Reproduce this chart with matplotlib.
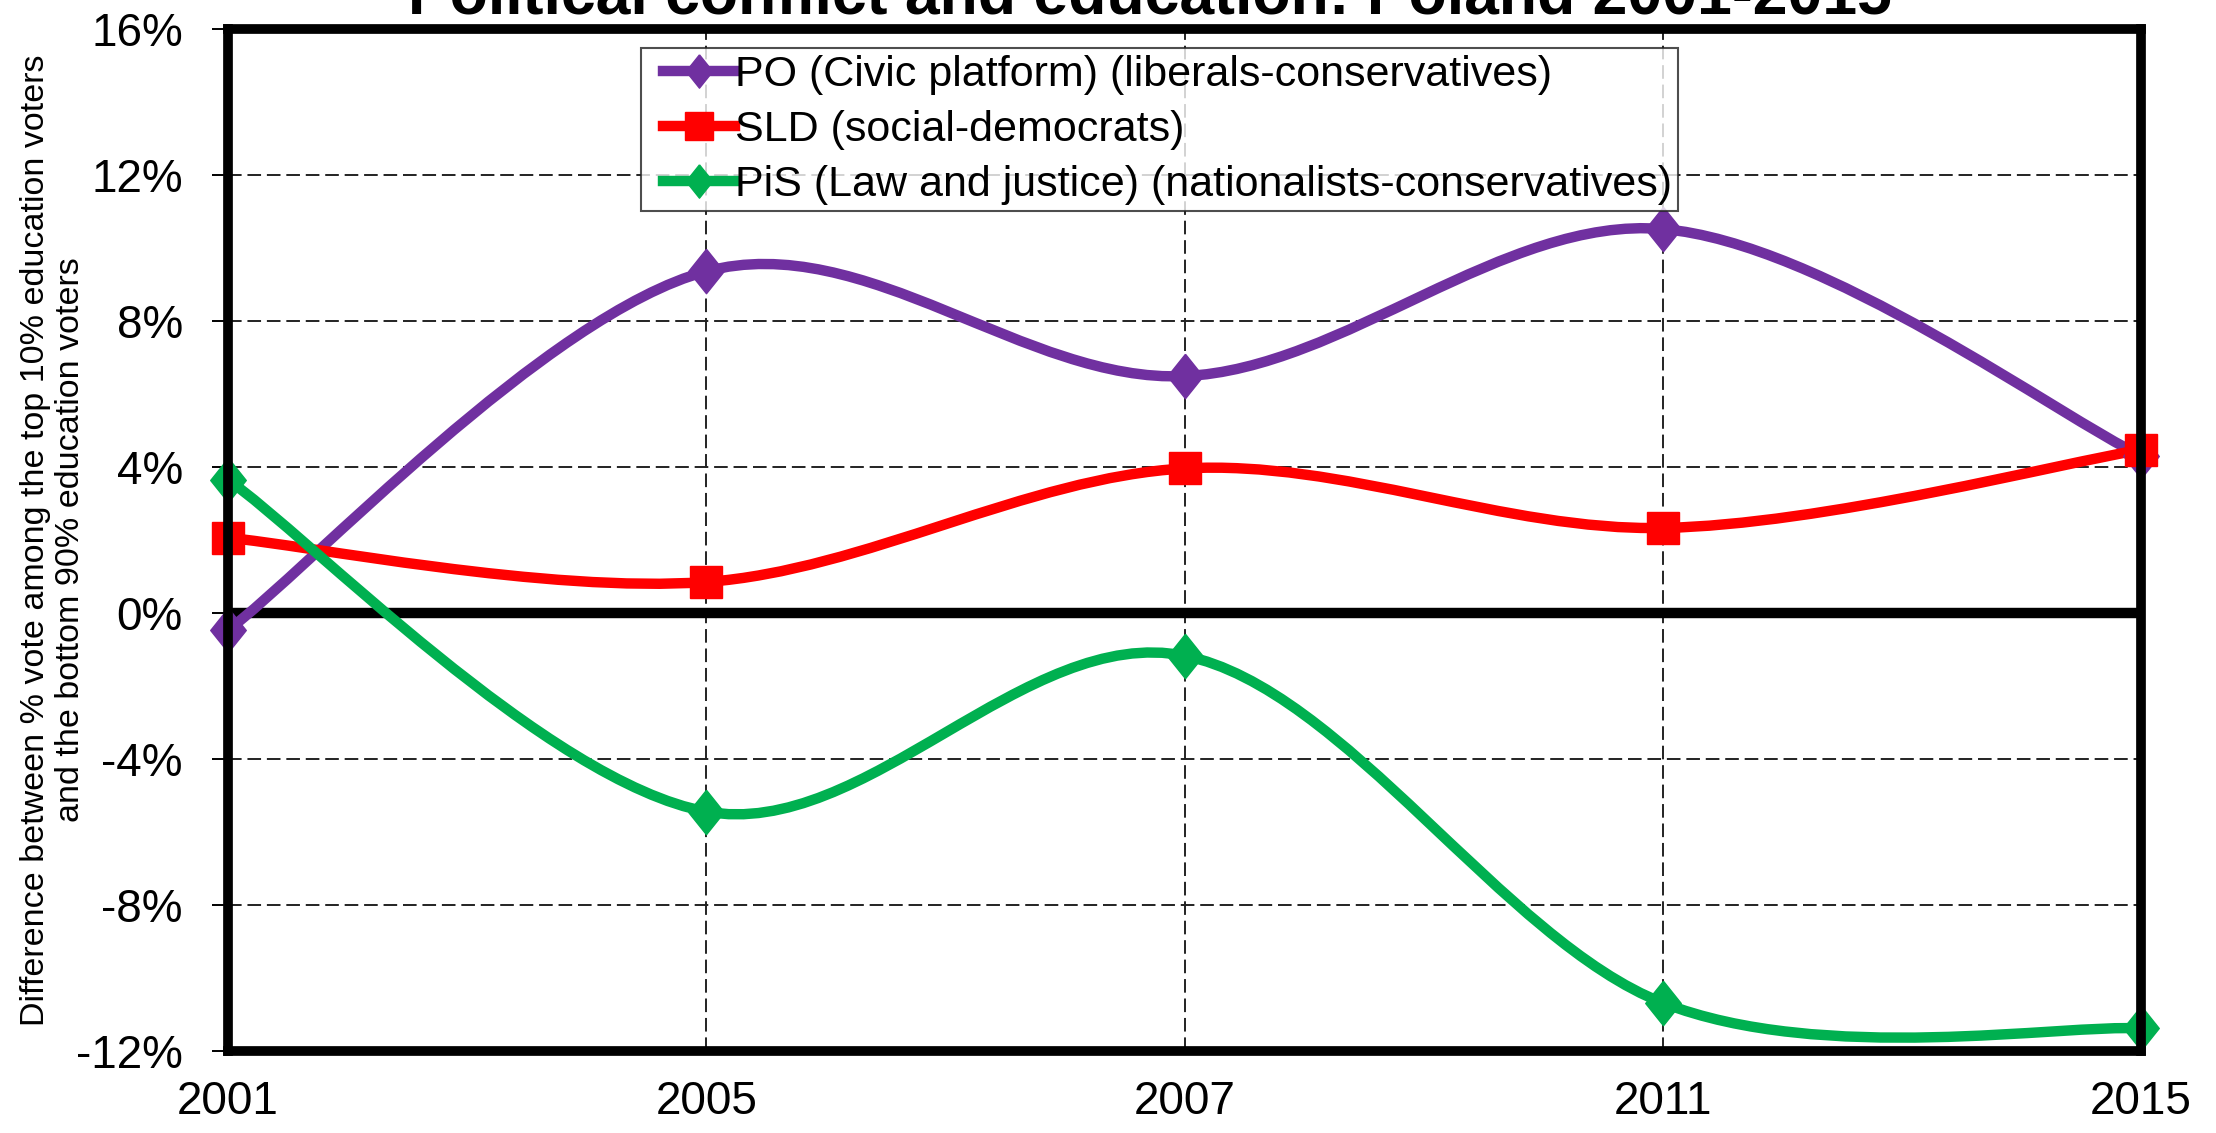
import numpy as np
import matplotlib
matplotlib.use("Agg")
from matplotlib import pyplot as plt
from matplotlib.path import Path
from matplotlib.patches import PathPatch
from matplotlib.lines import Line2D
from matplotlib.legend_handler import HandlerLine2D
from matplotlib.ticker import FuncFormatter

plt.rcParams['font.family'] = ['Liberation Sans', 'DejaVu Sans']

years = ["2001", "2005", "2007", "2011", "2015"]
po = [-0.47, 9.36, 6.49, 10.52, 4.31]
sld = [2.06, 0.85, 3.96, 2.33, 4.47]
pis = [3.65, -5.44, -1.17, -10.68, -11.38]

labels = ["PO (Civic platform) (liberals-conservatives)",
          "SLD (social-democrats)",
          "PiS (Law and justice) (nationalists-conservatives)"]
colors = ["#7030A0", "#FF0000", "#00B050"]

# slightly tall diamond like the excel marker
tall_diamond = [(0, 1.25), (1, 0), (0, -1.25), (-1, 0), (0, 1.25)]
markers = [tall_diamond, "s", tall_diamond]
plot_ms = [32, 23, 32]
legend_ms = [24, 20, 24]


def smooth_path(xs, ys):
    # excel-like smoothed line: catmull-rom turned into cubic bezier segments
    pts = np.column_stack([xs, ys]).astype(float)
    verts = [pts[0]]
    codes = [Path.MOVETO]
    n = len(pts)
    for i in range(n - 1):
        p0 = pts[max(i - 1, 0)]
        p1 = pts[i]
        p2 = pts[i + 1]
        p3 = pts[min(i + 2, n - 1)]
        c1 = p1 + (p2 - p0) / 6.0
        c2 = p2 - (p3 - p1) / 6.0
        verts += [c1, c2, p2]
        codes += [Path.CURVE4] * 3
    return Path(verts, codes)


fig = plt.figure(figsize=(22.16, 11.33), dpi=100)
ax = fig.add_axes([228 / 2216, 1 - 1051 / 1133, (2141 - 228) / 2216, (1051 - 29) / 1133])

x = np.arange(len(years))
ax.set_xlim(0, len(years) - 1)
ax.set_ylim(-12, 16)

# grid
for yv in range(-12, 17, 4):
    ax.axhline(yv, color="#222222", lw=1.4, ls=(0, (7, 3)), zorder=1)
for xv in x:
    ax.axvline(xv, color="#222222", lw=1.4, ls=(0, (7, 3)), zorder=1)
ax.axhline(0, color="black", lw=7.5, zorder=2)

handles = []
for vals, col, mk, ms, lms, lab in zip([po, sld, pis], colors, markers,
                                      plot_ms, legend_ms, labels):
    patch = PathPatch(smooth_path(x, vals), fill=False, edgecolor=col,
                      lw=7.5, zorder=3, capstyle="round", clip_on=False)
    ax.add_patch(patch)
    ax.plot(x, vals, ls="none", marker=mk, ms=ms, color=col, zorder=4,
            clip_on=False)
    handles.append(Line2D([], [], color=col, lw=7.5, marker=mk, ms=lms, label=lab))

leg = ax.legend(handles=handles, loc="upper left", bbox_to_anchor=(0.2159, 0.981),
                fontsize=31, frameon=True, fancybox=False, edgecolor="#222222",
                handlelength=2.03, handletextpad=0.0, borderpad=0.15,
                labelspacing=0.35, borderaxespad=0,
                handler_map={Line2D: HandlerLine2D(xpad=0.36)})
leg.get_frame().set_linewidth(1.5)
leg.set_zorder(5)

ax.set_xticks(x)
ax.set_xticklabels(years)
ax.set_yticks(range(-12, 17, 4))
ax.yaxis.set_major_formatter(FuncFormatter(lambda v, p: f"{v:.0f}%"))
ax.tick_params(axis="y", labelsize=33, length=11.5, width=1.4, direction="out", pad=21)
ax.tick_params(axis="x", labelsize=33, length=0, pad=21)

for s in ax.spines.values():
    s.set_linewidth(7)
    s.set_zorder(6)

ax.set_ylabel("Difference between % vote among the top 10% education voters\n"
              "and the bottom 90% education voters", fontsize=24.5,
              linespacing=1.2)
ax.yaxis.set_label_coords(-0.0915, 0.5)
ax.yaxis.label.set_verticalalignment("center")

fig.text(1150 / 2216, 1 - 13 / 1133, "Political conflict and education: Poland 2001-2015",
         ha="center", va="baseline", fontsize=45, fontweight="bold")

fig.savefig("out.png", dpi=100)
